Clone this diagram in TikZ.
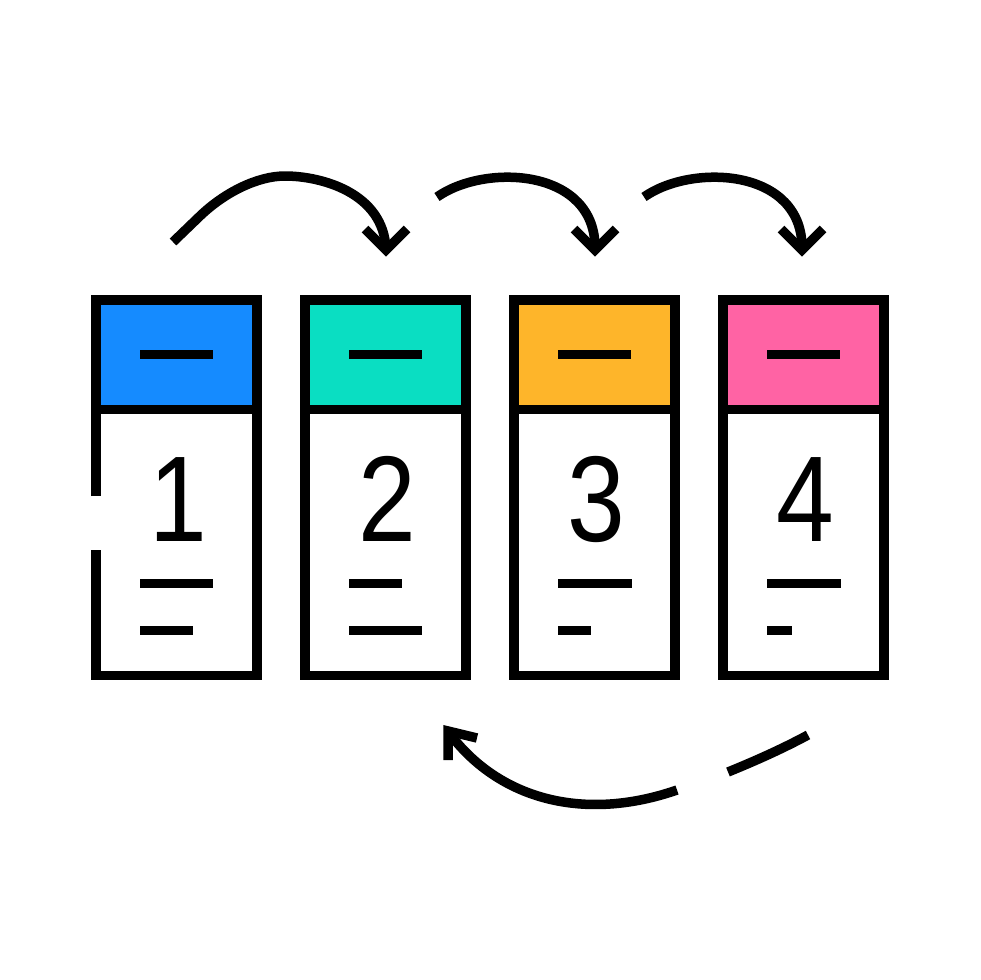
\documentclass[tikz,border=0pt]{standalone}
\usepackage{fontspec}
\newfontfamily\digitfont[FakeStretch=0.85]{Liberation Sans}
\definecolor{cblue}{HTML}{158BFF}
\definecolor{cteal}{HTML}{0ADEC2}
\definecolor{corange}{HTML}{FEB52A}
\definecolor{cpink}{HTML}{FF63A4}
\begin{document}
\begin{tikzpicture}[x=1pt,y=-1pt,
  ln/.style={line width=9.5pt, line cap=butt, line join=miter, draw=black},
  digit/.style={font=\digitfont\fontsize{122}{122}\selectfont, inner sep=0pt, anchor=base}]
\useasboundingbox (0,0) rectangle (980,980);
\fill[white] (0,0) rectangle (980,980);
% boxes
\foreach \bx/\col/\la/\lb/\dg in {96/cblue/73/53/1, 305/cteal/53/73/2, 514/corange/74/33/3, 723/cpink/74/25/4}{
  \fill[\col] (\bx,300) rectangle (\bx+161,409.5);
  \draw[ln] (\bx,409.5) -- (\bx+161,409.5);
  \draw[ln] (\bx+44,354.7) -- (\bx+117,354.7);
  \draw[ln] (\bx+44,583.7) -- (\bx+44+\la,583.7);
  \draw[ln] (\bx+44,630.7) -- (\bx+44+\lb,630.7);
  \node[digit] (d\dg) at (\bx+82,541) {\dg};
}
\draw[ln] (96,496) -- (96,300) -- (257,300) -- (257,675.5) -- (96,675.5) -- (96,550);
\foreach \bx in {305,514,723}{
  \draw[ln] (\bx,300) rectangle (\bx+161,675.5);
}
% top arrows
\coordinate (a1s) at (173,242);
\coordinate (a1k) at (200,216);
\coordinate (a1p) at (285,176);
\coordinate (a1e) at (386,250);
\draw[ln] (a1s) -- (a1k) .. controls (225,192) and (258,176) .. (a1p)
  .. controls (320,176) and (384,192) .. (a1e);
\draw[ln] (365,229) -- (a1e) -- (407,229);
\coordinate (a2s) at (437,197);
\coordinate (a2e) at (595,250);
\draw[ln] (a2s) .. controls (485,163) and (597,168) .. (a2e);
\draw[ln] (574,229) -- (a2e) -- (616,229);
\coordinate (a3s) at (644,197);
\coordinate (a3e) at (802,250);
\draw[ln] (a3s) .. controls (692,163) and (804,168) .. (a3e);
\draw[ln] (781,229) -- (a3e) -- (823,229);
% bottom arrow
\coordinate (b1s) at (808,735);
\coordinate (b1g) at (728,772);
\coordinate (b2s) at (677,790);
\coordinate (b2e) at (450,734);
\coordinate (btip) at (448,731);
\draw[ln] (b1s) .. controls (782,749) and (755,761) .. (b1g);
\draw[ln] (b2s) .. controls (585,822) and (500,800) .. (b2e);
\draw[ln] (448,760) -- (btip) -- (477,738);
\end{tikzpicture}
\end{document}
